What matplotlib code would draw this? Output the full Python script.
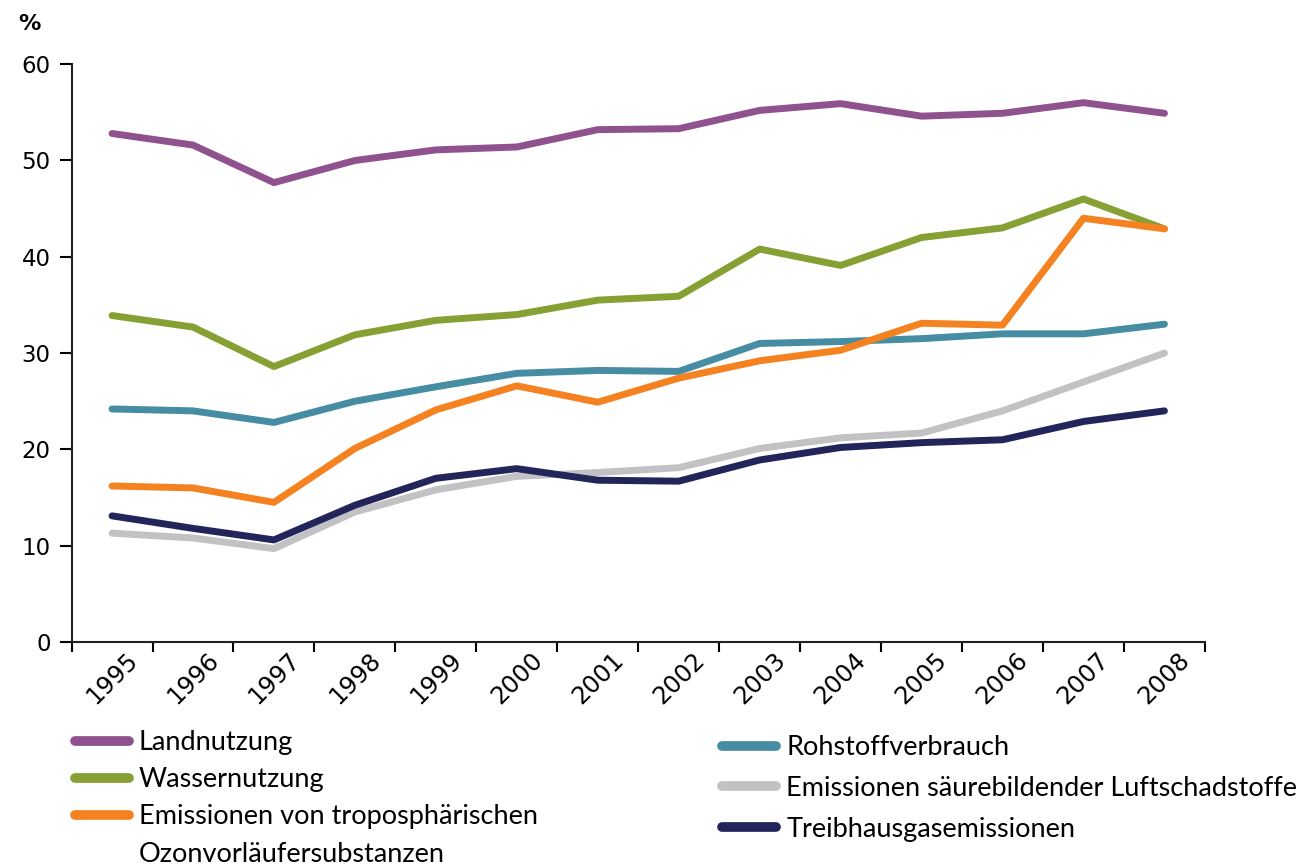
import matplotlib.pyplot as plt
from matplotlib.lines import Line2D
import numpy as np

# Daten
years = ["1995", "1996", "1997", "1998", "1999", "2000", "2001",
         "2002", "2003", "2004", "2005", "2006", "2007", "2008"]

landnutzung = [52.8, 51.6, 47.7, 50.0, 51.1, 51.4, 53.2, 53.3, 55.2, 55.9, 54.6, 54.9, 56.0, 54.9]
wassernutzung = [33.9, 32.7, 28.6, 31.9, 33.4, 34.0, 35.5, 35.9, 40.8, 39.1, 42.0, 43.0, 46.0, 42.9]
ozon = [16.2, 16.0, 14.5, 20.1, 24.1, 26.6, 24.9, 27.4, 29.2, 30.3, 33.1, 32.9, 44.0, 42.9]
rohstoff = [24.2, 24.0, 22.8, 25.0, 26.5, 27.9, 28.2, 28.1, 31.0, 31.2, 31.5, 32.0, 32.0, 33.0]
saeure = [11.3, 10.8, 9.7, 13.5, 15.8, 17.2, 17.6, 18.1, 20.1, 21.2, 21.7, 24.0, 27.0, 30.0]
treibhaus = [13.1, 11.8, 10.6, 14.2, 17.0, 18.0, 16.8, 16.7, 18.9, 20.2, 20.7, 21.0, 22.9, 24.0]

col_land = "#8f528f"
col_wasser = "#86a033"
col_ozon = "#f58220"
col_roh = "#468ca3"
col_saeure = "#c2c2c4"
col_treib = "#22255a"

plt.rcParams['font.family'] = ['DejaVu Sans']

fig = plt.figure(figsize=(13.08, 8.67), dpi=100)
ax = fig.add_axes([0.0547, 0.2595, 0.8665, 0.6665])

x = np.arange(len(years))
lw = 5
lines = {}
lines["Landnutzung"], = ax.plot(x, landnutzung, color=col_land, lw=lw, solid_capstyle="round")
lines["Wassernutzung"], = ax.plot(x, wassernutzung, color=col_wasser, lw=lw, solid_capstyle="round")
lines["Rohstoffverbrauch"], = ax.plot(x, rohstoff, color=col_roh, lw=lw, solid_capstyle="round")
lines["Emissionen säurebildender Luftschadstoffe"], = ax.plot(x, saeure, color=col_saeure, lw=lw, solid_capstyle="round")
lines["Emissionen von troposphärischen"], = ax.plot(x, ozon, color=col_ozon, lw=lw, solid_capstyle="round")
lines["Treibhausgasemissionen"], = ax.plot(x, treibhaus, color=col_treib, lw=lw, solid_capstyle="round")

ax.set_xlim(-0.5, len(years) - 0.5)
ax.set_ylim(0, 60)
ax.set_yticks(range(0, 61, 10))

# Ticks an den Kategoriegrenzen, Beschriftung in der Mitte
ax.set_xticks(np.arange(-0.5, len(years), 1.0))
ax.set_xticklabels([])
ax.set_xticks(x, minor=True)
ax.set_xticklabels(years, minor=True, rotation=45, ha="center", va="top", fontsize=17.5)
ax.tick_params(axis="x", which="minor", length=0, pad=4)
ax.tick_params(axis="x", which="major", length=7, width=1.5, direction="out")
ax.tick_params(axis="y", length=9, width=1.5, direction="out", labelsize=16.5, pad=6)

for s in ["top", "right"]:
    ax.spines[s].set_visible(False)
for s in ["left", "bottom"]:
    ax.spines[s].set_linewidth(1.5)
    ax.spines[s].set_color("#222222")

fig.text(0.014, 0.965, "%", fontsize=16, fontweight="bold")

# Legende in zwei Spalten
leg_font = {"family": "Lato", "size": 19.5}
h1 = [lines["Landnutzung"], lines["Wassernutzung"], lines["Emissionen von troposphärischen"],
      Line2D([], [], color="none")]
l1 = ["Landnutzung", "Wassernutzung", "Emissionen von troposphärischen", "Ozonvorläufersubstanzen"]
leg1 = fig.legend(h1, l1, loc="upper left", bbox_to_anchor=(0.057, 0.158), frameon=False,
                  prop=leg_font, handlelength=2.0, handletextpad=0.37, labelspacing=0.45,
                  borderaxespad=0, borderpad=0)
for h in leg1.legend_handles:
    h.set_linewidth(7)

h2 = [lines["Rohstoffverbrauch"], lines["Emissionen säurebildender Luftschadstoffe"],
      lines["Treibhausgasemissionen"]]
l2 = ["Rohstoffverbrauch", "Emissionen säurebildender Luftschadstoffe", "Treibhausgasemissionen"]
leg2 = fig.legend(h2, l2, loc="upper left", bbox_to_anchor=(0.552, 0.152), frameon=False,
                  prop=leg_font, handlelength=2.0, handletextpad=0.37, labelspacing=0.58,
                  borderaxespad=0, borderpad=0)
for h in leg2.legend_handles:
    h.set_linewidth(7)

fig.savefig("out.png", dpi=100)
